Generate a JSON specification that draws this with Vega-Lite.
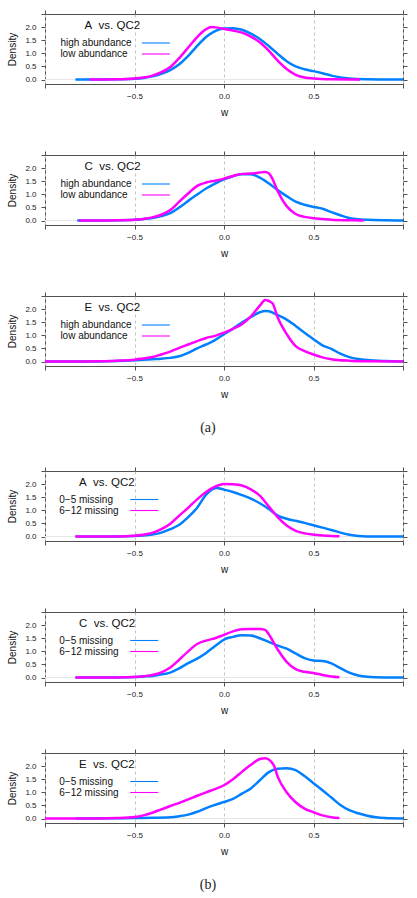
{
"$schema": "https://vega.github.io/schema/vega-lite/v6.json",
"padding": {"left": 7, "top": 9, "right": 4, "bottom": 2},
"config": {
  "font": "Liberation Sans",
  "view": {"stroke": "#505050", "strokeWidth": 1},
  "axis": {"domain": false, "tickColor": "#505050", "tickSize": 4, "tickWidth": 1, "labelFontSize": 8, "labelColor": "#222222", "labelFont": "Liberation Sans", "titleFont": "Liberation Sans", "titleFontSize": 10, "titleFontWeight": "normal", "titleColor": "#111111", "labelPadding": 4},
  "axisX": {"titlePadding": 7},
  "axisY": {"titlePadding": 7, "labelPadding": 5},
  "legend": {"orient": "none", "padding": 0, "offset": 0, "symbolType": "M-3.11,0H3.11", "symbolStrokeWidth": 1.1, "symbolSize": 81, "symbolFillColor": "transparent", "labelFont": "Liberation Sans", "labelFontSize": 10, "labelColor": "#111111", "labelAlign": "left", "labelLimit": 200, "rowPadding": 0, "title": null},
  "title": {"orient": "top", "anchor": "start", "frame": "group", "offset": -22, "baseline": "alphabetic", "font": "Liberation Sans", "fontSize": 11.5, "fontWeight": "normal", "color": "#111111"}
},
"datasets": {
"A1": [
{"g":"high abundance","w":-0.83,"d":0},{"g":"high abundance","w":-0.7,"d":0.002},{"g":"high abundance","w":-0.6,"d":0.01},{"g":"high abundance","w":-0.5,"d":0.03},{"g":"high abundance","w":-0.45,"d":0.06},{"g":"high abundance","w":-0.4,"d":0.12},{"g":"high abundance","w":-0.35,"d":0.22},{"g":"high abundance","w":-0.3,"d":0.36},{"g":"high abundance","w":-0.25,"d":0.58},{"g":"high abundance","w":-0.2,"d":0.9},{"g":"high abundance","w":-0.15,"d":1.28},{"g":"high abundance","w":-0.1,"d":1.62},{"g":"high abundance","w":-0.05,"d":1.85},{"g":"high abundance","w":0,"d":1.95},{"g":"high abundance","w":0.05,"d":1.96},{"g":"high abundance","w":0.1,"d":1.9},{"g":"high abundance","w":0.15,"d":1.75},{"g":"high abundance","w":0.2,"d":1.55},{"g":"high abundance","w":0.25,"d":1.28},{"g":"high abundance","w":0.3,"d":0.98},{"g":"high abundance","w":0.35,"d":0.7},{"g":"high abundance","w":0.4,"d":0.5},{"g":"high abundance","w":0.45,"d":0.39},{"g":"high abundance","w":0.5,"d":0.32},{"g":"high abundance","w":0.55,"d":0.24},{"g":"high abundance","w":0.6,"d":0.15},{"g":"high abundance","w":0.65,"d":0.08},{"g":"high abundance","w":0.7,"d":0.04},{"g":"high abundance","w":0.8,"d":0.01},{"g":"high abundance","w":0.9,"d":0.002},{"g":"high abundance","w":1.0,"d":0},
{"g":"low abundance","w":-0.75,"d":0},{"g":"low abundance","w":-0.6,"d":0.01},{"g":"low abundance","w":-0.5,"d":0.04},{"g":"low abundance","w":-0.45,"d":0.08},{"g":"low abundance","w":-0.4,"d":0.15},{"g":"low abundance","w":-0.35,"d":0.28},{"g":"low abundance","w":-0.3,"d":0.48},{"g":"low abundance","w":-0.25,"d":0.82},{"g":"low abundance","w":-0.2,"d":1.22},{"g":"low abundance","w":-0.15,"d":1.62},{"g":"low abundance","w":-0.1,"d":1.92},{"g":"low abundance","w":-0.07,"d":2.0},{"g":"low abundance","w":-0.05,"d":1.99},{"g":"low abundance","w":0,"d":1.93},{"g":"low abundance","w":0.05,"d":1.87},{"g":"low abundance","w":0.1,"d":1.79},{"g":"low abundance","w":0.15,"d":1.64},{"g":"low abundance","w":0.2,"d":1.42},{"g":"low abundance","w":0.25,"d":1.1},{"g":"low abundance","w":0.3,"d":0.72},{"g":"low abundance","w":0.35,"d":0.4},{"g":"low abundance","w":0.4,"d":0.18},{"g":"low abundance","w":0.45,"d":0.08},{"g":"low abundance","w":0.5,"d":0.04},{"g":"low abundance","w":0.6,"d":0.01},{"g":"low abundance","w":0.76,"d":0}
],
"C1": [
{"g":"high abundance","w":-0.82,"d":0},{"g":"high abundance","w":-0.7,"d":0.003},{"g":"high abundance","w":-0.6,"d":0.01},{"g":"high abundance","w":-0.5,"d":0.03},{"g":"high abundance","w":-0.45,"d":0.06},{"g":"high abundance","w":-0.4,"d":0.1},{"g":"high abundance","w":-0.35,"d":0.17},{"g":"high abundance","w":-0.3,"d":0.28},{"g":"high abundance","w":-0.25,"d":0.5},{"g":"high abundance","w":-0.2,"d":0.75},{"g":"high abundance","w":-0.15,"d":0.99},{"g":"high abundance","w":-0.1,"d":1.22},{"g":"high abundance","w":-0.05,"d":1.41},{"g":"high abundance","w":0,"d":1.57},{"g":"high abundance","w":0.05,"d":1.69},{"g":"high abundance","w":0.1,"d":1.77},{"g":"high abundance","w":0.15,"d":1.77},{"g":"high abundance","w":0.2,"d":1.64},{"g":"high abundance","w":0.25,"d":1.42},{"g":"high abundance","w":0.3,"d":1.16},{"g":"high abundance","w":0.35,"d":0.93},{"g":"high abundance","w":0.4,"d":0.72},{"g":"high abundance","w":0.45,"d":0.6},{"g":"high abundance","w":0.5,"d":0.52},{"g":"high abundance","w":0.55,"d":0.45},{"g":"high abundance","w":0.6,"d":0.32},{"g":"high abundance","w":0.65,"d":0.2},{"g":"high abundance","w":0.7,"d":0.1},{"g":"high abundance","w":0.75,"d":0.05},{"g":"high abundance","w":0.8,"d":0.03},{"g":"high abundance","w":0.9,"d":0.01},{"g":"high abundance","w":1.0,"d":0},
{"g":"low abundance","w":-0.81,"d":0},{"g":"low abundance","w":-0.7,"d":0.003},{"g":"low abundance","w":-0.6,"d":0.01},{"g":"low abundance","w":-0.5,"d":0.03},{"g":"low abundance","w":-0.45,"d":0.06},{"g":"low abundance","w":-0.4,"d":0.12},{"g":"low abundance","w":-0.35,"d":0.22},{"g":"low abundance","w":-0.3,"d":0.4},{"g":"low abundance","w":-0.25,"d":0.72},{"g":"low abundance","w":-0.2,"d":1.03},{"g":"low abundance","w":-0.15,"d":1.32},{"g":"low abundance","w":-0.1,"d":1.45},{"g":"low abundance","w":-0.05,"d":1.52},{"g":"low abundance","w":0,"d":1.6},{"g":"low abundance","w":0.05,"d":1.7},{"g":"low abundance","w":0.1,"d":1.78},{"g":"low abundance","w":0.15,"d":1.79},{"g":"low abundance","w":0.2,"d":1.83},{"g":"low abundance","w":0.23,"d":1.85},{"g":"low abundance","w":0.25,"d":1.8},{"g":"low abundance","w":0.27,"d":1.6},{"g":"low abundance","w":0.3,"d":1.12},{"g":"low abundance","w":0.35,"d":0.55},{"g":"low abundance","w":0.4,"d":0.25},{"g":"low abundance","w":0.45,"d":0.14},{"g":"low abundance","w":0.5,"d":0.09},{"g":"low abundance","w":0.55,"d":0.06},{"g":"low abundance","w":0.6,"d":0.03},{"g":"low abundance","w":0.7,"d":0.01},{"g":"low abundance","w":0.78,"d":0}
],
"E1": [
{"g":"high abundance","w":-1,"d":0},{"g":"high abundance","w":-0.8,"d":0.002},{"g":"high abundance","w":-0.7,"d":0.005},{"g":"high abundance","w":-0.6,"d":0.02},{"g":"high abundance","w":-0.5,"d":0.05},{"g":"high abundance","w":-0.4,"d":0.09},{"g":"high abundance","w":-0.35,"d":0.11},{"g":"high abundance","w":-0.3,"d":0.14},{"g":"high abundance","w":-0.25,"d":0.2},{"g":"high abundance","w":-0.2,"d":0.33},{"g":"high abundance","w":-0.15,"d":0.5},{"g":"high abundance","w":-0.1,"d":0.65},{"g":"high abundance","w":-0.05,"d":0.82},{"g":"high abundance","w":0,"d":1.04},{"g":"high abundance","w":0.05,"d":1.25},{"g":"high abundance","w":0.1,"d":1.49},{"g":"high abundance","w":0.15,"d":1.7},{"g":"high abundance","w":0.2,"d":1.88},{"g":"high abundance","w":0.23,"d":1.93},{"g":"high abundance","w":0.25,"d":1.92},{"g":"high abundance","w":0.3,"d":1.77},{"g":"high abundance","w":0.35,"d":1.6},{"g":"high abundance","w":0.4,"d":1.36},{"g":"high abundance","w":0.45,"d":1.1},{"g":"high abundance","w":0.5,"d":0.85},{"g":"high abundance","w":0.55,"d":0.62},{"g":"high abundance","w":0.6,"d":0.48},{"g":"high abundance","w":0.65,"d":0.3},{"g":"high abundance","w":0.7,"d":0.17},{"g":"high abundance","w":0.75,"d":0.1},{"g":"high abundance","w":0.8,"d":0.06},{"g":"high abundance","w":0.9,"d":0.02},{"g":"high abundance","w":1.0,"d":0.002},
{"g":"low abundance","w":-1,"d":0},{"g":"low abundance","w":-0.8,"d":0.003},{"g":"low abundance","w":-0.7,"d":0.01},{"g":"low abundance","w":-0.6,"d":0.03},{"g":"low abundance","w":-0.5,"d":0.07},{"g":"low abundance","w":-0.45,"d":0.12},{"g":"low abundance","w":-0.4,"d":0.17},{"g":"low abundance","w":-0.35,"d":0.27},{"g":"low abundance","w":-0.3,"d":0.38},{"g":"low abundance","w":-0.25,"d":0.52},{"g":"low abundance","w":-0.2,"d":0.65},{"g":"low abundance","w":-0.15,"d":0.78},{"g":"low abundance","w":-0.1,"d":0.9},{"g":"low abundance","w":-0.05,"d":0.98},{"g":"low abundance","w":0,"d":1.1},{"g":"low abundance","w":0.05,"d":1.25},{"g":"low abundance","w":0.1,"d":1.42},{"g":"low abundance","w":0.15,"d":1.72},{"g":"low abundance","w":0.2,"d":2.13},{"g":"low abundance","w":0.23,"d":2.35},{"g":"low abundance","w":0.27,"d":2.23},{"g":"low abundance","w":0.3,"d":1.68},{"g":"low abundance","w":0.35,"d":1.05},{"g":"low abundance","w":0.4,"d":0.59},{"g":"low abundance","w":0.45,"d":0.4},{"g":"low abundance","w":0.5,"d":0.27},{"g":"low abundance","w":0.55,"d":0.16},{"g":"low abundance","w":0.6,"d":0.09},{"g":"low abundance","w":0.7,"d":0.03},{"g":"low abundance","w":0.8,"d":0.01},{"g":"low abundance","w":1.0,"d":0}
],
"A2": [
{"g":"0−5 missing","w":-0.83,"d":0},{"g":"0−5 missing","w":-0.6,"d":0.005},{"g":"0−5 missing","w":-0.5,"d":0.02},{"g":"0−5 missing","w":-0.45,"d":0.04},{"g":"0−5 missing","w":-0.4,"d":0.08},{"g":"0−5 missing","w":-0.35,"d":0.15},{"g":"0−5 missing","w":-0.3,"d":0.28},{"g":"0−5 missing","w":-0.25,"d":0.45},{"g":"0−5 missing","w":-0.2,"d":0.74},{"g":"0−5 missing","w":-0.15,"d":1.1},{"g":"0−5 missing","w":-0.1,"d":1.6},{"g":"0−5 missing","w":-0.06,"d":1.82},{"g":"0−5 missing","w":-0.04,"d":1.85},{"g":"0−5 missing","w":0,"d":1.79},{"g":"0−5 missing","w":0.05,"d":1.7},{"g":"0−5 missing","w":0.1,"d":1.58},{"g":"0−5 missing","w":0.15,"d":1.45},{"g":"0−5 missing","w":0.2,"d":1.27},{"g":"0−5 missing","w":0.25,"d":1.05},{"g":"0−5 missing","w":0.3,"d":0.8},{"g":"0−5 missing","w":0.35,"d":0.68},{"g":"0−5 missing","w":0.4,"d":0.6},{"g":"0−5 missing","w":0.45,"d":0.52},{"g":"0−5 missing","w":0.5,"d":0.43},{"g":"0−5 missing","w":0.55,"d":0.34},{"g":"0−5 missing","w":0.6,"d":0.25},{"g":"0−5 missing","w":0.65,"d":0.15},{"g":"0−5 missing","w":0.7,"d":0.07},{"g":"0−5 missing","w":0.75,"d":0.02},{"g":"0−5 missing","w":0.8,"d":0.005},{"g":"0−5 missing","w":0.9,"d":0.001},{"g":"0−5 missing","w":1.0,"d":0},
{"g":"6−12 missing","w":-0.83,"d":0},{"g":"6−12 missing","w":-0.6,"d":0.005},{"g":"6−12 missing","w":-0.5,"d":0.03},{"g":"6−12 missing","w":-0.45,"d":0.07},{"g":"6−12 missing","w":-0.4,"d":0.14},{"g":"6−12 missing","w":-0.35,"d":0.28},{"g":"6−12 missing","w":-0.3,"d":0.49},{"g":"6−12 missing","w":-0.25,"d":0.8},{"g":"6−12 missing","w":-0.2,"d":1.1},{"g":"6−12 missing","w":-0.15,"d":1.42},{"g":"6−12 missing","w":-0.1,"d":1.7},{"g":"6−12 missing","w":-0.05,"d":1.9},{"g":"6−12 missing","w":0,"d":2.0},{"g":"6−12 missing","w":0.05,"d":1.99},{"g":"6−12 missing","w":0.1,"d":1.95},{"g":"6−12 missing","w":0.15,"d":1.8},{"g":"6−12 missing","w":0.2,"d":1.56},{"g":"6−12 missing","w":0.25,"d":1.15},{"g":"6−12 missing","w":0.3,"d":0.74},{"g":"6−12 missing","w":0.35,"d":0.42},{"g":"6−12 missing","w":0.4,"d":0.22},{"g":"6−12 missing","w":0.45,"d":0.12},{"g":"6−12 missing","w":0.5,"d":0.07},{"g":"6−12 missing","w":0.55,"d":0.04},{"g":"6−12 missing","w":0.6,"d":0.02},{"g":"6−12 missing","w":0.645,"d":0.01}
],
"C2": [
{"g":"0−5 missing","w":-0.83,"d":0},{"g":"0−5 missing","w":-0.6,"d":0.005},{"g":"0−5 missing","w":-0.5,"d":0.02},{"g":"0−5 missing","w":-0.45,"d":0.04},{"g":"0−5 missing","w":-0.4,"d":0.06},{"g":"0−5 missing","w":-0.35,"d":0.12},{"g":"0−5 missing","w":-0.3,"d":0.19},{"g":"0−5 missing","w":-0.25,"d":0.35},{"g":"0−5 missing","w":-0.2,"d":0.55},{"g":"0−5 missing","w":-0.15,"d":0.72},{"g":"0−5 missing","w":-0.1,"d":0.94},{"g":"0−5 missing","w":-0.05,"d":1.2},{"g":"0−5 missing","w":0,"d":1.45},{"g":"0−5 missing","w":0.05,"d":1.55},{"g":"0−5 missing","w":0.1,"d":1.61},{"g":"0−5 missing","w":0.15,"d":1.6},{"g":"0−5 missing","w":0.2,"d":1.5},{"g":"0−5 missing","w":0.25,"d":1.36},{"g":"0−5 missing","w":0.3,"d":1.22},{"g":"0−5 missing","w":0.35,"d":1.1},{"g":"0−5 missing","w":0.4,"d":0.92},{"g":"0−5 missing","w":0.45,"d":0.74},{"g":"0−5 missing","w":0.5,"d":0.65},{"g":"0−5 missing","w":0.55,"d":0.63},{"g":"0−5 missing","w":0.6,"d":0.54},{"g":"0−5 missing","w":0.65,"d":0.36},{"g":"0−5 missing","w":0.7,"d":0.19},{"g":"0−5 missing","w":0.75,"d":0.08},{"g":"0−5 missing","w":0.8,"d":0.03},{"g":"0−5 missing","w":0.9,"d":0.005},{"g":"0−5 missing","w":1.0,"d":0},
{"g":"6−12 missing","w":-0.83,"d":0},{"g":"6−12 missing","w":-0.6,"d":0.005},{"g":"6−12 missing","w":-0.5,"d":0.02},{"g":"6−12 missing","w":-0.45,"d":0.05},{"g":"6−12 missing","w":-0.4,"d":0.1},{"g":"6−12 missing","w":-0.35,"d":0.2},{"g":"6−12 missing","w":-0.3,"d":0.38},{"g":"6−12 missing","w":-0.25,"d":0.68},{"g":"6−12 missing","w":-0.2,"d":1.0},{"g":"6−12 missing","w":-0.15,"d":1.28},{"g":"6−12 missing","w":-0.1,"d":1.41},{"g":"6−12 missing","w":-0.05,"d":1.5},{"g":"6−12 missing","w":0,"d":1.63},{"g":"6−12 missing","w":0.05,"d":1.76},{"g":"6−12 missing","w":0.1,"d":1.84},{"g":"6−12 missing","w":0.15,"d":1.85},{"g":"6−12 missing","w":0.2,"d":1.85},{"g":"6−12 missing","w":0.23,"d":1.82},{"g":"6−12 missing","w":0.25,"d":1.65},{"g":"6−12 missing","w":0.3,"d":1.07},{"g":"6−12 missing","w":0.35,"d":0.6},{"g":"6−12 missing","w":0.4,"d":0.32},{"g":"6−12 missing","w":0.45,"d":0.22},{"g":"6−12 missing","w":0.5,"d":0.17},{"g":"6−12 missing","w":0.55,"d":0.1},{"g":"6−12 missing","w":0.6,"d":0.04},{"g":"6−12 missing","w":0.645,"d":0.01}
],
"E2": [
{"g":"0−5 missing","w":-0.83,"d":0},{"g":"0−5 missing","w":-0.6,"d":0.01},{"g":"0−5 missing","w":-0.5,"d":0.02},{"g":"0−5 missing","w":-0.4,"d":0.03},{"g":"0−5 missing","w":-0.3,"d":0.05},{"g":"0−5 missing","w":-0.25,"d":0.09},{"g":"0−5 missing","w":-0.2,"d":0.15},{"g":"0−5 missing","w":-0.15,"d":0.26},{"g":"0−5 missing","w":-0.1,"d":0.4},{"g":"0−5 missing","w":-0.05,"d":0.52},{"g":"0−5 missing","w":0,"d":0.63},{"g":"0−5 missing","w":0.05,"d":0.75},{"g":"0−5 missing","w":0.1,"d":0.95},{"g":"0−5 missing","w":0.15,"d":1.15},{"g":"0−5 missing","w":0.2,"d":1.46},{"g":"0−5 missing","w":0.25,"d":1.77},{"g":"0−5 missing","w":0.3,"d":1.9},{"g":"0−5 missing","w":0.35,"d":1.92},{"g":"0−5 missing","w":0.4,"d":1.85},{"g":"0−5 missing","w":0.45,"d":1.62},{"g":"0−5 missing","w":0.5,"d":1.35},{"g":"0−5 missing","w":0.55,"d":1.08},{"g":"0−5 missing","w":0.6,"d":0.8},{"g":"0−5 missing","w":0.65,"d":0.52},{"g":"0−5 missing","w":0.7,"d":0.32},{"g":"0−5 missing","w":0.75,"d":0.2},{"g":"0−5 missing","w":0.8,"d":0.11},{"g":"0−5 missing","w":0.85,"d":0.05},{"g":"0−5 missing","w":0.9,"d":0.02},{"g":"0−5 missing","w":1.0,"d":0.003},
{"g":"6−12 missing","w":-1,"d":0},{"g":"6−12 missing","w":-0.8,"d":0.002},{"g":"6−12 missing","w":-0.7,"d":0.005},{"g":"6−12 missing","w":-0.6,"d":0.02},{"g":"6−12 missing","w":-0.5,"d":0.06},{"g":"6−12 missing","w":-0.45,"d":0.12},{"g":"6−12 missing","w":-0.4,"d":0.22},{"g":"6−12 missing","w":-0.35,"d":0.35},{"g":"6−12 missing","w":-0.3,"d":0.48},{"g":"6−12 missing","w":-0.25,"d":0.6},{"g":"6−12 missing","w":-0.2,"d":0.73},{"g":"6−12 missing","w":-0.15,"d":0.87},{"g":"6−12 missing","w":-0.1,"d":1.0},{"g":"6−12 missing","w":-0.05,"d":1.12},{"g":"6−12 missing","w":0,"d":1.27},{"g":"6−12 missing","w":0.05,"d":1.5},{"g":"6−12 missing","w":0.1,"d":1.78},{"g":"6−12 missing","w":0.15,"d":2.05},{"g":"6−12 missing","w":0.2,"d":2.27},{"g":"6−12 missing","w":0.23,"d":2.3},{"g":"6−12 missing","w":0.25,"d":2.25},{"g":"6−12 missing","w":0.28,"d":2.0},{"g":"6−12 missing","w":0.3,"d":1.6},{"g":"6−12 missing","w":0.35,"d":1.0},{"g":"6−12 missing","w":0.4,"d":0.62},{"g":"6−12 missing","w":0.45,"d":0.38},{"g":"6−12 missing","w":0.5,"d":0.24},{"g":"6−12 missing","w":0.55,"d":0.12},{"g":"6−12 missing","w":0.6,"d":0.05},{"g":"6−12 missing","w":0.645,"d":0.02}
]
},
"spacing": 31,
"resolve": {"scale": {"color": "independent"}},
"vconcat": [
{
"spacing": 32,
"resolve": {"scale": {"color": "independent"}},
"title": {"text": "(a)", "orient": "bottom", "font": "Liberation Serif", "fontSize": 14, "fontWeight": "normal", "anchor": "middle", "frame": "bounds", "offset": 21, "baseline": "top", "dx": 0, "color": "#222222"},
"vconcat": [
{"width": 358, "height": 70, "data": {"name": "A1"},
 "title": {"text": "A\u00a0\u00a0vs. QC2", "dx": 39.5},
 "resolve": {"axis": {"x": "independent", "y": "independent"}},
 "layer": [
  {"mark": {"type": "rule", "color": "#e6e6e6", "strokeWidth": 1}, "encoding": {"y": {"datum": 0, "type": "quantitative", "axis": null}}},
  {"mark": {"type": "line", "strokeWidth": 2.5, "interpolate": "monotone"},
   "encoding": {
    "x": {"field": "w", "type": "quantitative", "scale": {"domain": [-1, 1], "nice": false}, "axis": {"orient": "bottom", "values": [-1, -0.5, 0, 0.5, 1], "labelExpr": "abs(datum.value) == 1 ? '' : format(datum.value, '.1f')", "grid": true, "gridDash": [3, 3], "gridColor": "#c4c4c4", "title": "w"}},
    "y": {"field": "d", "type": "quantitative", "scale": {"domain": [-0.17, 2.5], "nice": false, "zero": false}, "axis": {"orient": "left", "values": [0, 0.5, 1, 1.5, 2, 2.5], "labelExpr": "datum.value == 2.5 ? '' : format(datum.value, '.1f')", "grid": false, "title": "Density"}},
    "color": {"field": "g", "type": "nominal", "scale": {"domain": ["high abundance", "low abundance"], "range": ["#0080ff", "#ff00ff"]}, "legend": {"legendX": 105.4, "legendY": 23.5, "labelOffset": -101}}
   }},
  {"mark": {"type": "line", "opacity": 0},
   "encoding": {
    "x": {"field": "w", "type": "quantitative", "axis": {"orient": "top", "values": [-1, -0.5, 0, 0.5, 1], "labels": false, "grid": false, "title": null}},
    "y": {"field": "d", "type": "quantitative", "axis": {"orient": "right", "values": [0, 0.5, 1, 1.5, 2, 2.5], "labels": false, "grid": false, "title": null}},
    "detail": {"field": "g"}
   }}
 ]},
{"width": 358, "height": 70, "data": {"name": "C1"},
 "title": {"text": "C\u00a0\u00a0vs. QC2", "dx": 39.5},
 "resolve": {"axis": {"x": "independent", "y": "independent"}},
 "layer": [
  {"mark": {"type": "rule", "color": "#e6e6e6", "strokeWidth": 1}, "encoding": {"y": {"datum": 0, "type": "quantitative", "axis": null}}},
  {"mark": {"type": "line", "strokeWidth": 2.5, "interpolate": "monotone"},
   "encoding": {
    "x": {"field": "w", "type": "quantitative", "scale": {"domain": [-1, 1], "nice": false}, "axis": {"orient": "bottom", "values": [-1, -0.5, 0, 0.5, 1], "labelExpr": "abs(datum.value) == 1 ? '' : format(datum.value, '.1f')", "grid": true, "gridDash": [3, 3], "gridColor": "#c4c4c4", "title": "w"}},
    "y": {"field": "d", "type": "quantitative", "scale": {"domain": [-0.17, 2.5], "nice": false, "zero": false}, "axis": {"orient": "left", "values": [0, 0.5, 1, 1.5, 2, 2.5], "labelExpr": "datum.value == 2.5 ? '' : format(datum.value, '.1f')", "grid": false, "title": "Density"}},
    "color": {"field": "g", "type": "nominal", "scale": {"domain": ["high abundance", "low abundance"], "range": ["#0080ff", "#ff00ff"]}, "legend": {"legendX": 105.4, "legendY": 23.5, "labelOffset": -101}}
   }},
  {"mark": {"type": "line", "opacity": 0},
   "encoding": {
    "x": {"field": "w", "type": "quantitative", "axis": {"orient": "top", "values": [-1, -0.5, 0, 0.5, 1], "labels": false, "grid": false, "title": null}},
    "y": {"field": "d", "type": "quantitative", "axis": {"orient": "right", "values": [0, 0.5, 1, 1.5, 2, 2.5], "labels": false, "grid": false, "title": null}},
    "detail": {"field": "g"}
   }}
 ]},
{"width": 358, "height": 70, "data": {"name": "E1"},
 "title": {"text": "E\u00a0\u00a0vs. QC2", "dx": 39.5},
 "resolve": {"axis": {"x": "independent", "y": "independent"}},
 "layer": [
  {"mark": {"type": "rule", "color": "#e6e6e6", "strokeWidth": 1}, "encoding": {"y": {"datum": 0, "type": "quantitative", "axis": null}}},
  {"mark": {"type": "line", "strokeWidth": 2.5, "interpolate": "monotone"},
   "encoding": {
    "x": {"field": "w", "type": "quantitative", "scale": {"domain": [-1, 1], "nice": false}, "axis": {"orient": "bottom", "values": [-1, -0.5, 0, 0.5, 1], "labelExpr": "abs(datum.value) == 1 ? '' : format(datum.value, '.1f')", "grid": true, "gridDash": [3, 3], "gridColor": "#c4c4c4", "title": "w"}},
    "y": {"field": "d", "type": "quantitative", "scale": {"domain": [-0.17, 2.5], "nice": false, "zero": false}, "axis": {"orient": "left", "values": [0, 0.5, 1, 1.5, 2, 2.5], "labelExpr": "datum.value == 2.5 ? '' : format(datum.value, '.1f')", "grid": false, "title": "Density"}},
    "color": {"field": "g", "type": "nominal", "scale": {"domain": ["high abundance", "low abundance"], "range": ["#0080ff", "#ff00ff"]}, "legend": {"legendX": 105.4, "legendY": 23.5, "labelOffset": -101}}
   }},
  {"mark": {"type": "line", "opacity": 0},
   "encoding": {
    "x": {"field": "w", "type": "quantitative", "axis": {"orient": "top", "values": [-1, -0.5, 0, 0.5, 1], "labels": false, "grid": false, "title": null}},
    "y": {"field": "d", "type": "quantitative", "axis": {"orient": "right", "values": [0, 0.5, 1, 1.5, 2, 2.5], "labels": false, "grid": false, "title": null}},
    "detail": {"field": "g"}
   }}
 ]}
]
},
{
"spacing": 32,
"resolve": {"scale": {"color": "independent"}},
"title": {"text": "(b)", "orient": "bottom", "font": "Liberation Serif", "fontSize": 14, "fontWeight": "normal", "anchor": "middle", "frame": "bounds", "offset": 21, "baseline": "top", "dx": 0, "color": "#222222"},
"vconcat": [
{"width": 358, "height": 70, "data": {"name": "A2"},
 "title": {"text": "A\u00a0\u00a0vs. QC2", "dx": 34},
 "resolve": {"axis": {"x": "independent", "y": "independent"}},
 "layer": [
  {"mark": {"type": "rule", "color": "#e6e6e6", "strokeWidth": 1}, "encoding": {"y": {"datum": 0, "type": "quantitative", "axis": null}}},
  {"mark": {"type": "line", "strokeWidth": 2.5, "interpolate": "monotone"},
   "encoding": {
    "x": {"field": "w", "type": "quantitative", "scale": {"domain": [-1, 1], "nice": false}, "axis": {"orient": "bottom", "values": [-1, -0.5, 0, 0.5, 1], "labelExpr": "abs(datum.value) == 1 ? '' : format(datum.value, '.1f')", "grid": true, "gridDash": [3, 3], "gridColor": "#c4c4c4", "title": "w"}},
    "y": {"field": "d", "type": "quantitative", "scale": {"domain": [-0.17, 2.5], "nice": false, "zero": false}, "axis": {"orient": "left", "values": [0, 0.5, 1, 1.5, 2, 2.5], "labelExpr": "datum.value == 2.5 ? '' : format(datum.value, '.1f')", "grid": false, "title": "Density"}},
    "color": {"field": "g", "type": "nominal", "scale": {"domain": ["0−5 missing", "6−12 missing"], "range": ["#0080ff", "#ff00ff"]}, "legend": {"legendX": 93.7, "legendY": 23, "labelOffset": -90.4}}
   }},
  {"mark": {"type": "line", "opacity": 0},
   "encoding": {
    "x": {"field": "w", "type": "quantitative", "axis": {"orient": "top", "values": [-1, -0.5, 0, 0.5, 1], "labels": false, "grid": false, "title": null}},
    "y": {"field": "d", "type": "quantitative", "axis": {"orient": "right", "values": [0, 0.5, 1, 1.5, 2, 2.5], "labels": false, "grid": false, "title": null}},
    "detail": {"field": "g"}
   }}
 ]},
{"width": 358, "height": 70, "data": {"name": "C2"},
 "title": {"text": "C\u00a0\u00a0vs. QC2", "dx": 34},
 "resolve": {"axis": {"x": "independent", "y": "independent"}},
 "layer": [
  {"mark": {"type": "rule", "color": "#e6e6e6", "strokeWidth": 1}, "encoding": {"y": {"datum": 0, "type": "quantitative", "axis": null}}},
  {"mark": {"type": "line", "strokeWidth": 2.5, "interpolate": "monotone"},
   "encoding": {
    "x": {"field": "w", "type": "quantitative", "scale": {"domain": [-1, 1], "nice": false}, "axis": {"orient": "bottom", "values": [-1, -0.5, 0, 0.5, 1], "labelExpr": "abs(datum.value) == 1 ? '' : format(datum.value, '.1f')", "grid": true, "gridDash": [3, 3], "gridColor": "#c4c4c4", "title": "w"}},
    "y": {"field": "d", "type": "quantitative", "scale": {"domain": [-0.17, 2.5], "nice": false, "zero": false}, "axis": {"orient": "left", "values": [0, 0.5, 1, 1.5, 2, 2.5], "labelExpr": "datum.value == 2.5 ? '' : format(datum.value, '.1f')", "grid": false, "title": "Density"}},
    "color": {"field": "g", "type": "nominal", "scale": {"domain": ["0−5 missing", "6−12 missing"], "range": ["#0080ff", "#ff00ff"]}, "legend": {"legendX": 93.7, "legendY": 23, "labelOffset": -90.4}}
   }},
  {"mark": {"type": "line", "opacity": 0},
   "encoding": {
    "x": {"field": "w", "type": "quantitative", "axis": {"orient": "top", "values": [-1, -0.5, 0, 0.5, 1], "labels": false, "grid": false, "title": null}},
    "y": {"field": "d", "type": "quantitative", "axis": {"orient": "right", "values": [0, 0.5, 1, 1.5, 2, 2.5], "labels": false, "grid": false, "title": null}},
    "detail": {"field": "g"}
   }}
 ]},
{"width": 358, "height": 70, "data": {"name": "E2"},
 "title": {"text": "E\u00a0\u00a0vs. QC2", "dx": 34},
 "resolve": {"axis": {"x": "independent", "y": "independent"}},
 "layer": [
  {"mark": {"type": "rule", "color": "#e6e6e6", "strokeWidth": 1}, "encoding": {"y": {"datum": 0, "type": "quantitative", "axis": null}}},
  {"mark": {"type": "line", "strokeWidth": 2.5, "interpolate": "monotone"},
   "encoding": {
    "x": {"field": "w", "type": "quantitative", "scale": {"domain": [-1, 1], "nice": false}, "axis": {"orient": "bottom", "values": [-1, -0.5, 0, 0.5, 1], "labelExpr": "abs(datum.value) == 1 ? '' : format(datum.value, '.1f')", "grid": true, "gridDash": [3, 3], "gridColor": "#c4c4c4", "title": "w"}},
    "y": {"field": "d", "type": "quantitative", "scale": {"domain": [-0.17, 2.5], "nice": false, "zero": false}, "axis": {"orient": "left", "values": [0, 0.5, 1, 1.5, 2, 2.5], "labelExpr": "datum.value == 2.5 ? '' : format(datum.value, '.1f')", "grid": false, "title": "Density"}},
    "color": {"field": "g", "type": "nominal", "scale": {"domain": ["0−5 missing", "6−12 missing"], "range": ["#0080ff", "#ff00ff"]}, "legend": {"legendX": 93.7, "legendY": 23, "labelOffset": -90.4}}
   }},
  {"mark": {"type": "line", "opacity": 0},
   "encoding": {
    "x": {"field": "w", "type": "quantitative", "axis": {"orient": "top", "values": [-1, -0.5, 0, 0.5, 1], "labels": false, "grid": false, "title": null}},
    "y": {"field": "d", "type": "quantitative", "axis": {"orient": "right", "values": [0, 0.5, 1, 1.5, 2, 2.5], "labels": false, "grid": false, "title": null}},
    "detail": {"field": "g"}
   }}
 ]}
]
}
]
}
